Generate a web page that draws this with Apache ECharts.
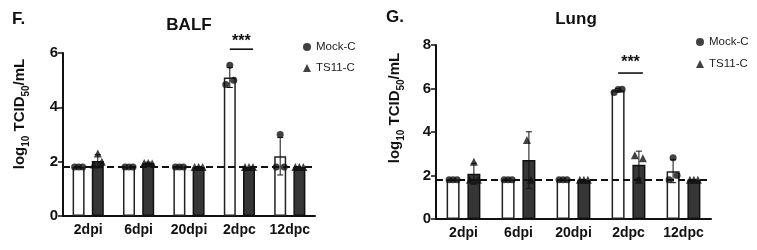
<!DOCTYPE html>
<html>
<head>
<meta charset="utf-8">
<script src="https://cdn.jsdelivr.net/npm/echarts@6/dist/echarts.min.js"></script>
<style>
  html, body { margin: 0; padding: 0; background: #fff; }
  #chart { width: 757px; height: 250px; }
</style>
</head>
<body>
<div id="chart"></div>
<script>
const categories = ['2dpi', '6dpi', '20dpi', '2dpc', '12dpc']
const lod = 1.8

// BALF (panel F)
const balfMockMean = [1.8, 1.8, 1.8, 5.1, 2.2]
const balfMockSd = [0, 0, 0, 0.37, 0.69]
const balfMockPts = [[1.8, 1.8, 1.8], [1.8, 1.8, 1.8], [1.8, 1.8, 1.8], [4.84, 5.55, 5.0], [1.8, 3.0, 1.8]]
const balfTsMean = [2.02, 1.95, 1.8, 1.8, 1.8]
const balfTsSd = [0.24, 0.03, 0, 0, 0]
const balfTsPts = [[1.9, 2.3, 2.0], [1.95, 1.95, 1.93], [1.8, 1.8, 1.8], [1.8, 1.8, 1.8], [1.8, 1.8, 1.8]]

// Lung (panel G)
const lungMockMean = [1.8, 1.8, 1.8, 5.92, 2.2]
const lungMockSd = [0, 0, 0, 0.08, 0.53]
const lungMockPts = [[1.8, 1.8, 1.8], [1.8, 1.8, 1.8], [1.8, 1.8, 1.8], [5.82, 5.95, 5.97], [1.8, 2.82, 2.0]]
const lungTsMean = [2.08, 2.71, 1.8, 2.5, 1.8]
const lungTsSd = [0.48, 1.3, 0, 0.62, 0]
const lungTsPts = [[1.8, 2.63, 1.8], [3.63, 1.8], [1.8, 1.8, 1.8], [2.93, 1.8, 2.79], [1.8, 1.8, 1.8]]

const font = 'Liberation Sans, Arial, sans-serif'

const chart = echarts.init(document.getElementById('chart'))

function scatterData (pts, dx) {
  const out = []
  pts.forEach((arr, i) => {
    arr.forEach((v, j) => {
      const jit = (j - (arr.length - 1) / 2) * 4
      out.push({ value: [i, v], symbolOffset: [dx + jit, 0] })
    })
  })
  return out
}

function errorSeries (gi, mean, sd, dx) {
  return {
    type: 'custom',
    xAxisIndex: gi,
    yAxisIndex: gi,
    z: 4,
    silent: true,
    data: mean.map((m, i) => [i, m, sd[i]]),
    renderItem: (params, api) => {
      const s = api.value(2)
      if (!s) return
      const top = api.coord([api.value(0), api.value(1) + s])
      const bot = api.coord([api.value(0), api.value(1) - s])
      const x = top[0] + dx
      const st = { stroke: '#111', lineWidth: 1 }
      return {
        type: 'group',
        children: [
          { type: 'line', shape: { x1: x, y1: top[1], x2: x, y2: bot[1] }, style: st },
          { type: 'line', shape: { x1: x - 3, y1: top[1], x2: x + 3, y2: top[1] }, style: st },
          { type: 'line', shape: { x1: x - 3, y1: bot[1], x2: x + 3, y2: bot[1] }, style: st }
        ]
      }
    }
  }
}

function sigSeries (gi, catIdx, lineY, starY, dx) {
  return {
    type: 'custom',
    xAxisIndex: gi,
    yAxisIndex: gi,
    z: 6,
    silent: true,
    data: [[catIdx, lineY, starY]],
    renderItem: (params, api) => {
      const a = api.coord([api.value(0), api.value(1)])
      const b = api.coord([api.value(0), api.value(2)])
      return {
        type: 'group',
        children: [
          { type: 'line', shape: { x1: a[0] - dx, y1: a[1], x2: a[0] + dx + 4, y2: a[1] }, style: { stroke: '#111', lineWidth: 1.6 } },
          { type: 'text', x: a[0] + 2, y: b[1], style: { text: '***', font: 'bold 16px ' + font, fill: '#111', align: 'center', verticalAlign: 'middle' } }
        ]
      }
    }
  }
}

function panelSeries (gi, mockMean, mockSd, mockPts, tsMean, tsSd, tsPts, barW, sig) {
  const dx = barW * 1.6 / 2
  return [
    {
      name: 'Mock-C bar', type: 'bar', xAxisIndex: gi, yAxisIndex: gi,
      barWidth: barW, barGap: '60%', z: 2, silent: true,
      itemStyle: { color: '#fff', borderColor: '#222', borderWidth: 1.5 },
      data: mockMean,
      markLine: {
        silent: true, symbol: 'none', z: 3,
        label: { show: false },
        lineStyle: { color: '#111', type: [7, 4], width: 2 },
        data: [{ yAxis: lod }]
      }
    },
    {
      name: 'TS11-C bar', type: 'bar', xAxisIndex: gi, yAxisIndex: gi,
      barWidth: barW, barGap: '60%', z: 2, silent: true,
      itemStyle: { color: '#363636', borderColor: '#111', borderWidth: 1.5 },
      data: tsMean
    },
    errorSeries(gi, mockMean, mockSd, -dx),
    errorSeries(gi, tsMean, tsSd, dx),
    {
      name: 'Mock-C', type: 'scatter', xAxisIndex: gi, yAxisIndex: gi, z: 5,
      symbol: 'circle', symbolSize: 7, itemStyle: { color: '#111' },
      data: scatterData(mockPts, -dx)
    },
    {
      name: 'TS11-C', type: 'scatter', xAxisIndex: gi, yAxisIndex: gi, z: 5,
      symbol: 'triangle', symbolSize: 8, itemStyle: { color: '#111' },
      data: scatterData(tsPts, dx)
    },
    sigSeries(gi, 3, sig[0], sig[1], dx)
  ]
}

function xAxisOpt (gi) {
  return {
    type: 'category', gridIndex: gi, data: categories,
    axisLine: { lineStyle: { color: '#111', width: 2 } },
    axisTick: { alignWithLabel: true, length: 5, lineStyle: { color: '#111', width: 1.5 } },
    axisLabel: { interval: 0, color: '#111', fontFamily: font, fontWeight: 'bold', fontSize: 14, margin: 7 }
  }
}

function yAxisOpt (gi, max) {
  return {
    type: 'value', gridIndex: gi, min: 0, max: max, interval: 2,
    axisLine: { show: true, lineStyle: { color: '#111', width: 2 } },
    axisTick: { show: true, length: 5, lineStyle: { color: '#111', width: 1.5 } },
    splitLine: { show: false },
    axisLabel: { color: '#111', fontFamily: font, fontWeight: 'bold', fontSize: 15, margin: 5 }
  }
}

const yName = '{b|log}{s|10}{b| TCID}{s|50}{b|/mL}'
const yRich = {
  b: { font: 'bold 15px ' + font, fill: '#111', lineHeight: 22, verticalAlign: 'middle' },
  s: { font: 'bold 10px ' + font, fill: '#111', lineHeight: 12, verticalAlign: 'bottom' }
}

function legendOpt (left, top, gap) {
  return {
    orient: 'vertical', left: left, top: top, itemGap: gap,
    itemWidth: 8, itemHeight: 8, selectedMode: false,
    textStyle: { fontFamily: font, fontSize: 11.5, color: '#222' },
    data: [{ name: 'Mock-C', icon: 'circle' }, { name: 'TS11-C', icon: 'triangle' }]
  }
}

chart.setOption({
  animation: false,
  grid: [
    { left: 63, top: 53, width: 252, height: 163 },
    { left: 436, top: 45, width: 275, height: 174 }
  ],
  legend: [legendOpt(298, 36, 9), legendOpt(691, 31, 10)],
  xAxis: [xAxisOpt(0), xAxisOpt(1)],
  yAxis: [yAxisOpt(0, 6), yAxisOpt(1, 8)],
  graphic: [
    { type: 'text', x: 12, y: 11, style: { text: 'F.', font: 'bold 17px ' + font, fill: '#111' } },
    { type: 'text', x: 386, y: 9, style: { text: 'G.', font: 'bold 17px ' + font, fill: '#111' } },
    { type: 'text', x: 189, y: 25, style: { text: 'BALF', font: 'bold 17px ' + font, fill: '#111', align: 'center', verticalAlign: 'middle' } },
    { type: 'text', x: 576, y: 19, style: { text: 'Lung', font: 'bold 17px ' + font, fill: '#111', align: 'center', verticalAlign: 'middle' } },
    { type: 'text', x: 20, y: 114, rotation: Math.PI / 2, style: { text: yName, rich: yRich, align: 'center', verticalAlign: 'middle' } },
    { type: 'text', x: 395, y: 108, rotation: Math.PI / 2, style: { text: yName, rich: yRich, align: 'center', verticalAlign: 'middle' } }
  ],
  series: [
    ...panelSeries(0, balfMockMean, balfMockSd, balfMockPts, balfTsMean, balfTsSd, balfTsPts, 12, [6.14, 6.42]),
    ...panelSeries(1, lungMockMean, lungMockSd, lungMockPts, lungTsMean, lungTsSd, lungTsPts, 13, [6.71, 7.17])
  ]
})
</script>
</body>
</html>
